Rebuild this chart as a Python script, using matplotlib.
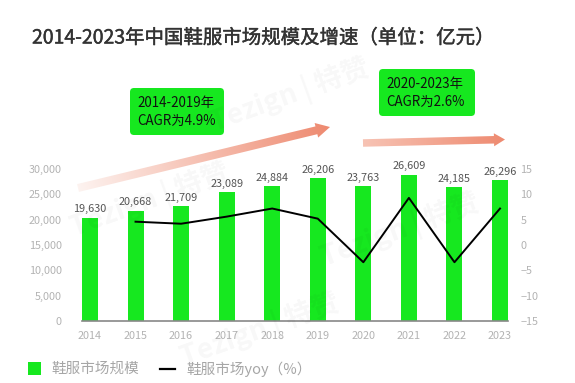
import numpy as np
import matplotlib
matplotlib.use('Agg')
import matplotlib.pyplot as plt
import matplotlib.patheffects as pe
from matplotlib.patches import Polygon, FancyBboxPatch
from matplotlib.colors import LinearSegmentedColormap

plt.rcParams['font.family'] = ['Noto Sans CJK SC', 'DejaVu Sans']

# data
years = ['2014', '2015', '2016', '2017', '2018', '2019', '2020', '2021', '2022', '2023']
bar_heights = [20400, 21800, 22600, 25400, 26600, 28200, 26600, 28900, 26400, 27800]
bar_labels = [19630, 20668, 21709, 23089, 24884, 26206, 23763, 26609, 24185, 26296]
yoy = [np.nan, 4.6, 4.2, 5.6, 7.2, 5.2, -3.4, 9.3, -3.4, 7.2]
left_ticks = [0, 5000, 10000, 15000, 20000, 25000, 30000]
right_ticks = [-15, -10, -5, 0, 5, 10, 15]

green = '#16e81f'
W, H = 575, 383

fig = plt.figure(figsize=(W / 100, H / 100), dpi=100)
ax = fig.add_axes([82 / W, (H - 321) / H, (508 - 82) / W, (321 - 169) / H])
x = np.arange(len(years))
ax.bar(x, bar_heights, width=0.35, color=green, zorder=2)
for xi, h, lab in zip(x, bar_heights, bar_labels):
    ax.text(xi, h + 700, f'{lab:,}', ha='center', va='bottom', fontsize=7.8, color='#555555')
ax.set_xlim(-0.175, len(years) - 1 + 0.175)
ax.set_ylim(0, 30000)
ax.set_yticks(left_ticks)
ax.set_yticklabels([f'{t:,}' for t in left_ticks])
ax.set_xticks(x)
ax.set_xticklabels(years)
ax.tick_params(length=0, labelsize=7.8, labelcolor='#b3b3b3')
ax.tick_params(axis='x', pad=7)
ax.tick_params(axis='y', pad=14.5)
for s in ['top', 'right', 'left']:
    ax.spines[s].set_visible(False)
ax.spines['bottom'].set_color('#888888')
ax.spines['bottom'].set_linewidth(1.2)
ax.patch.set_alpha(0)

ax2 = ax.twinx()
ax2.plot(x, yoy, color='black', lw=1.4, zorder=3)
ax2.set_ylim(-15, 15)
ax2.set_yticks(right_ticks)
ax2.tick_params(length=0, labelsize=7.8, labelcolor='#b3b3b3', pad=9)
for s in ax2.spines.values():
    s.set_visible(False)

# overlay in pixel coordinates
ov = fig.add_axes([0, 0, 1, 1], zorder=5)
ov.set_xlim(0, W)
ov.set_ylim(H, 0)
ov.axis('off')
ov.patch.set_alpha(0)

ov.text(264, 38, '2014-2023年中国鞋服市场规模及增速（单位：亿元）', ha='center', va='center',
        fontsize=14, color='#333333',
        path_effects=[pe.withStroke(linewidth=0.3, foreground='#333333')])


def grad_arrow(p0, p1, w, hw, hl, c0, c1):
    p0, p1 = np.array(p0, float), np.array(p1, float)
    d = p1 - p0
    L = np.hypot(*d)
    d /= L
    n = np.array([-d[1], d[0]])
    base = p1 - d * hl
    pts = [p0 + n * w / 2, base + n * w / 2, base + n * hw / 2, p1,
           base - n * hw / 2, base - n * w / 2, p0 - n * w / 2]
    poly = Polygon(pts, closed=True, fc='none', ec='none')
    ov.add_patch(poly)
    pts = np.array(pts)
    xmin, ymin = pts.min(axis=0) - 2
    xmax, ymax = pts.max(axis=0) + 2
    X, Y = np.meshgrid(np.linspace(xmin, xmax, 300), np.linspace(ymin, ymax, 100))
    val = ((X - p0[0]) * d[0] + (Y - p0[1]) * d[1]) / L
    cmap = LinearSegmentedColormap.from_list('g', [c0, c1])
    im = ov.imshow(val, extent=(xmin, xmax, ymin, ymax), origin='lower', cmap=cmap,
                   vmin=0, vmax=1, aspect='auto', interpolation='bilinear')
    im.set_clip_path(poly)


grad_arrow((78, 188), (330, 127), 8, 15, 14, '#fdf3f0', '#ee8a70')
grad_arrow((363, 143), (505, 139.5), 7.5, 13, 11, '#f7c3b4', '#ee8a70')
ov.set_xlim(0, W)
ov.set_ylim(H, 0)


def green_box(x0, y0, x1, y1, lines):
    box = FancyBboxPatch((x0, y0), x1 - x0, y1 - y0, boxstyle='round,pad=0,rounding_size=4',
                         fc=green, ec='none')
    ov.add_patch(box)
    ov.text(x0 + 7, y0 + (y1 - y0) * 0.32, lines[0], fontsize=9.6, color='#111111', va='center')
    ov.text(x0 + 7, y0 + (y1 - y0) * 0.70, lines[1], fontsize=9.6, color='#111111', va='center')


green_box(130, 88, 224, 135, ['2014-2019年', 'CAGR为4.9%'])
green_box(379, 69, 475, 116, ['2020-2023年', 'CAGR为2.6%'])

# faint watermarks
for (wx, wy) in [(290, 95), (150, 200), (400, 230), (260, 330)]:
    ov.text(wx, wy, 'Tezign | 特赞', fontsize=20, color='#000000', alpha=0.03, rotation=20,
            ha='center', va='center', fontweight='bold')

# legend
ov.add_patch(plt.Rectangle((28, 362), 13, 13, fc=green, ec='none'))
ov.text(51, 369, '鞋服市场规模', fontsize=10.5, color='#a6a6a6', va='center')
ov.plot([160, 175], [368.5, 368.5], color='black', lw=1.6)
ov.text(186, 369, '鞋服市场yoy（%）', fontsize=10.5, color='#a6a6a6', va='center')

fig.savefig('out.png', dpi=100)
